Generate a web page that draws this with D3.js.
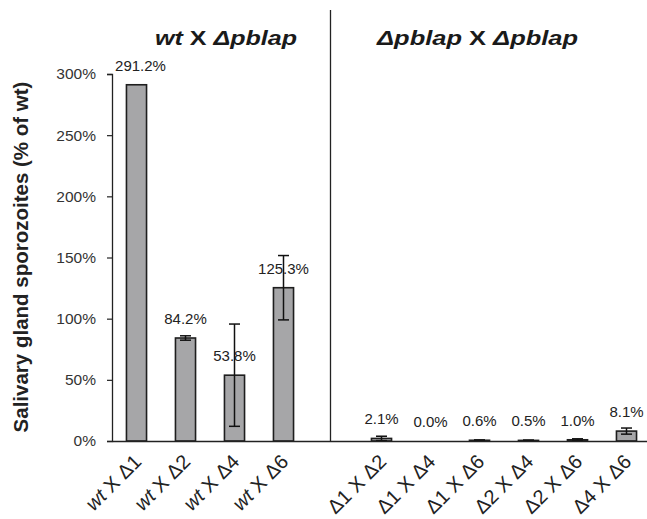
<!DOCTYPE html>
<html>
<head>
<meta charset="utf-8">
<script src="https://cdn.jsdelivr.net/npm/d3@7"></script>
<style>
  body { margin: 0; background: #fff; }
  svg { display: block; font-family: "Liberation Sans", Arial, sans-serif; }
</style>
</head>
<body>
<svg width="647" height="519"></svg>
<script>
// data
const leftCats = ["wt X Δ1", "wt X Δ2", "wt X Δ4", "wt X Δ6"];
const rightCats = ["Δ1 X Δ2", "Δ1 X Δ4", "Δ1 X Δ6", "Δ2 X Δ4", "Δ2 X Δ6", "Δ4 X Δ6"];
const categories = leftCats.concat(rightCats);
const values = [291.2, 84.2, 53.8, 125.3, 2.1, 0.0, 0.6, 0.5, 1.0, 8.1];
const errors = [0, 1.8, 41.8, 26.3, 1.8, 0, 0.3, 0.3, 0.8, 2.5];
const yTicks = [0, 50, 100, 150, 200, 250, 300];
const yTitle = "Salivary gland sporozoites (% of wt)";

var svg = d3.select("svg"),
  margin = { top: 74, right: -4, bottom: 78, left: 112 },
  width = 647 - margin.left - margin.right,
  height = 519 - margin.top - margin.bottom;

var g = svg.append("g")
  .attr("transform", "translate(" + margin.left + "," + margin.top + ")");

// empty slot between the two groups
var x = d3.scaleBand()
  .domain(leftCats.concat(["gap"], rightCats))
  .range([0, width])
  .paddingInner(0.59)
  .paddingOuter(0.295);
var y = d3.scaleLinear().domain([0, 300]).range([height, 0]);

var data = categories.map(function (c, i) {
  return { name: c, value: values[i], err: errors[i] };
});

// y axis
var yAxis = g.append("g")
  .call(d3.axisLeft(y).tickValues(yTicks).tickSize(5).tickPadding(11)
    .tickFormat(function (d) { return d + "%"; }));
yAxis.select(".domain").attr("stroke", "#222").attr("stroke-width", 1.3);
yAxis.selectAll(".tick line").attr("stroke", "#222").attr("stroke-width", 1.2);
yAxis.selectAll(".tick text")
  .attr("font-size", 15.5).attr("fill", "#333")
  .attr("font-family", "'Liberation Sans', Arial, sans-serif");

// divider
var gapX = x("gap") + x.bandwidth() / 2 - 2;
g.append("line")
  .attr("x1", gapX).attr("x2", gapX)
  .attr("y1", -64).attr("y2", height)
  .attr("stroke", "#222").attr("stroke-width", 1.3);

// bars
g.selectAll(".bar")
  .data(data)
  .enter().append("rect")
  .attr("class", "bar")
  .attr("x", function (d) { return x(d.name); })
  .attr("y", function (d) { return y(d.value); })
  .attr("width", x.bandwidth())
  .attr("height", function (d) { return height - y(d.value); })
  .attr("fill", "#a6a6a8")
  .attr("stroke", "#1e1e1e")
  .attr("stroke-width", 1.6);

// error bars
var eb = g.selectAll(".err")
  .data(data.filter(function (d) { return d.err > 0; }))
  .enter().append("g")
  .attr("class", "err")
  .attr("stroke", "#111")
  .attr("stroke-width", 1.5);
eb.append("line")
  .attr("x1", function (d) { return x(d.name) + x.bandwidth() / 2; })
  .attr("x2", function (d) { return x(d.name) + x.bandwidth() / 2; })
  .attr("y1", function (d) { return y(d.value + d.err); })
  .attr("y2", function (d) { return y(Math.max(0, d.value - d.err)); });
[1, -1].forEach(function (s) {
  eb.append("line")
    .attr("x1", function (d) { return x(d.name) + x.bandwidth() / 2 - 5.5; })
    .attr("x2", function (d) { return x(d.name) + x.bandwidth() / 2 + 5.5; })
    .attr("y1", function (d) { return y(Math.max(0, d.value + s * d.err)); })
    .attr("y2", function (d) { return y(Math.max(0, d.value + s * d.err)); });
});

// value labels
g.selectAll(".val")
  .data(data)
  .enter().append("text")
  .attr("class", "val")
  .attr("x", function (d) { return x(d.name) + x.bandwidth() / 2 + (d.value > 200 ? 4 : 0); })
  .attr("y", function (d) { return y(d.value) - 14; })
  .attr("text-anchor", "middle")
  .attr("font-size", 15)
  .attr("fill", "#222")
  .text(function (d) { return d.value.toFixed(1) + "%"; });

// x axis line + rotated category labels
var xAxis = g.append("g")
  .attr("transform", "translate(0," + height + ")")
  .call(d3.axisBottom(x).tickSize(0).tickSizeOuter(0).tickFormat(""));
xAxis.select(".domain").attr("stroke", "#222").attr("stroke-width", 1.3);

var lab = g.selectAll(".xlab")
  .data(data)
  .enter().append("text")
  .attr("class", "xlab")
  .attr("text-anchor", "end")
  .attr("font-size", 20)
  .attr("fill", "#222")
  .attr("transform", function (d) {
    return "translate(" + (x(d.name) + x.bandwidth() / 2 + 6) + "," + (height + 22) + ") rotate(-45)";
  });
lab.each(function (d) {
  var t = d3.select(this);
  if (d.name.indexOf("wt") === 0) {
    t.append("tspan").attr("font-style", "italic").text("wt");
    t.append("tspan").text(d.name.slice(2));
  } else {
    t.text(d.name);
  }
});

// group titles
var tl = svg.append("text")
  .attr("x", 155).attr("y", 45)
  .attr("font-size", 20).attr("font-weight", "bold").attr("font-style", "italic")
  .attr("fill", "#1a1a1a")
  .attr("textLength", 142).attr("lengthAdjust", "spacingAndGlyphs");
tl.append("tspan").text("wt");
tl.append("tspan").attr("font-style", "normal").text(" X ");
tl.append("tspan").text("Δpblap");

var tr = svg.append("text")
  .attr("x", 377).attr("y", 45)
  .attr("font-size", 20).attr("font-weight", "bold").attr("font-style", "italic")
  .attr("fill", "#1a1a1a")
  .attr("textLength", 201).attr("lengthAdjust", "spacingAndGlyphs");
tr.append("tspan").text("Δpblap");
tr.append("tspan").attr("font-style", "normal").text(" X ");
tr.append("tspan").text("Δpblap");

// y title
svg.append("text")
  .attr("transform", "translate(28,257) rotate(-90)")
  .attr("text-anchor", "middle")
  .attr("font-size", 20.5)
  .attr("font-weight", "bold")
  .attr("fill", "#222")
  .text(yTitle);
</script>
</body>
</html>
